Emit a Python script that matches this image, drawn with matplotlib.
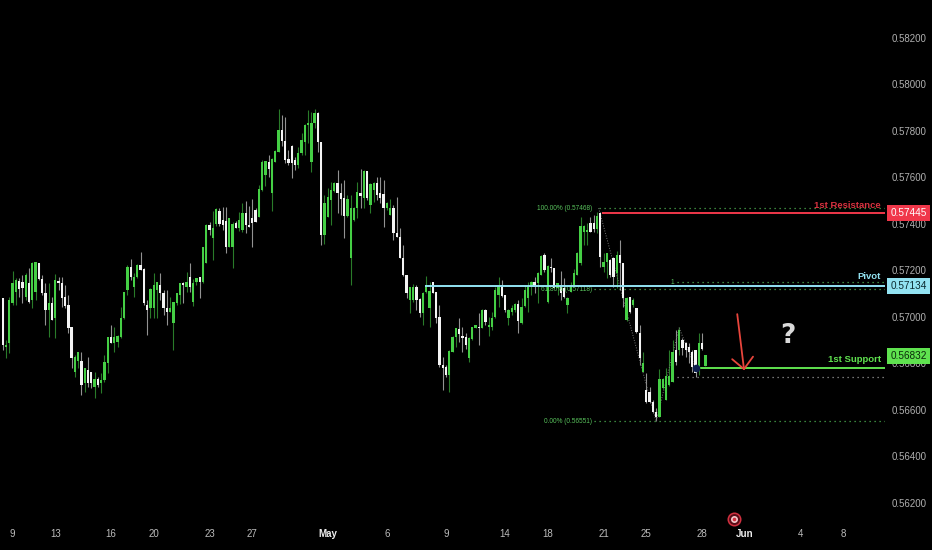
import numpy as np
import matplotlib
matplotlib.use('Agg')
import matplotlib.pyplot as plt

plt.rcParams['font.family'] = ['Liberation Sans', 'DejaVu Sans']

# candles, prices in 1e-5 units; G = up candle, W = down candle
candle_dir = ("WGGGGWWGWG" "GWWWGWGWWW" "WWGGWGWWGW" "GGGWGGGGGW" "GGWWWGGGWW"
              "WGGGGWGWGG" "WGGWGGWWWG" "GWGGWWWWGG" "GWGGGWWWWW" "GGGGGGWWGG"
              "GGWWWGGGGW" "GWGGWWWGGW" "WWWWGGWWGG" "GWWWWWGGGW" "WWGGGWGWGG"
              "GGWWGGGWGG" "GGWGGWGWWG" "WWGGGGGGGW" "WGWGGWWGWW" "GWGWWGWWWW"
              "GGGGGWGWWW" "WWGWG")

highs = [57080,56901,57087,57199,57166,57166,57181,57188,57209,57238,
         57238,57234,57181,57145,57145,57087,57183,57173,57173,57138,
         57095,56958,56837,56851,56847,56779,56829,56765,56765,56743,
         56758,56837,56915,56966,56958,56923,57044,57109,57224,57248,
         57188,57228,57281,57209,57073,57123,57191,57152,57191,57116,
         57116,57087,57066,57102,57148,57152,57195,57231,57162,57166,
         57170,57302,57400,57410,57457,57467,57467,57474,57472,57424,
         57410,57414,57453,57492,57500,57477,57506,57467,57568,57675,
         57671,57697,57682,57718,57894,57869,57861,57718,57739,57689,
         57732,57790,57830,57890,57883,57893,57883,57754,57525,57553,
         57582,57582,57632,57578,57589,57525,57525,57472,57582,57635,
         57632,57629,57575,57582,57600,57603,57589,57496,57506,57482,
         57515,57381,57309,57181,57130,57140,57138,57080,57109,57176,
         57152,57152,57109,57052,56829,56794,56858,56918,56951,56994,
         56958,56930,56915,56958,56966,57016,57033,57033,56999,57023,
         57130,57170,57159,57095,57033,57052,57059,57073,57080,57138,
         57152,57156,57173,57195,57267,57274,57224,57252,57209,57145,
         57199,57166,57087,57152,57205,57281,57431,57396,57403,57431,
         57439,57453,57453,57274,57277,57248,57259,57285,57331,57231,
         57087,57087,57080,57037,56966,56851,56758,56700,56643,56607,
         56775,56736,56779,56858,56901,56944,56958,56908,56894,56887,
         56858,56858,56930,56930,56837]

body_tops = [57080,56880,57073,57148,57159,57156,57152,57181,57148,57231,
             57238,57231,57162,57102,57059,57062,57159,57156,57148,57087,
             57052,56956,56829,56847,56812,56779,56772,56765,56732,56732,
             56729,56804,56913,56913,56915,56918,56994,57109,57216,57213,
             57170,57224,57224,57205,57052,57119,57138,57152,57138,57105,
             57037,57037,57063,57102,57148,57148,57152,57170,57148,57166,
             57170,57299,57396,57396,57381,57463,57457,57417,57414,57424,
             57400,57406,57417,57446,57446,57396,57424,57460,57549,57665,
             57671,57665,57679,57714,57804,57804,57758,57678,57735,57675,
             57704,57761,57826,57836,57833,57876,57879,57754,57489,57517,
             57546,57578,57575,57535,57510,57506,57467,57467,57539,57532,
             57629,57628,57572,57578,57575,57532,57529,57492,57467,57467,
             57363,57343,57252,57181,57130,57130,57130,57076,57105,57138,
             57113,57152,57109,56999,56794,56786,56855,56915,56951,56947,
             56918,56915,56908,56956,56964,56958,57030,57030,56966,56994,
             57116,57130,57138,57095,57030,57037,57056,57056,57044,57116,
             57130,57152,57152,57188,57262,57267,57219,57213,57209,57145,
             57138,57123,57080,57138,57188,57277,57391,57391,57374,57403,
             57403,57434,57446,57238,57274,57245,57252,57267,57267,57231,
             57080,57087,57073,57037,56930,56801,56686,56679,56636,56593,
             56732,56733,56746,56746,56851,56858,56944,56901,56887,56872,
             56851,56858,56887,56887,56837]

body_bottoms = [56880,56872,56887,57059,57109,57119,57123,57087,57066,57073,
                57109,57162,57102,57030,57030,56987,56994,57145,57080,57047,
                56951,56822,56765,56812,56708,56715,56715,56715,56700,56708,
                56715,56729,56801,56887,56887,56894,56915,56994,57116,57170,
                57130,57170,57202,57059,57030,57037,57037,57116,57102,57037,
                57023,57023,56976,57059,57095,57138,57130,57130,57066,57152,
                57152,57152,57231,57374,57338,57400,57400,57396,57302,57302,
                57302,57381,57381,57374,57396,57386,57403,57410,57431,57546,
                57611,57636,57535,57668,57711,57758,57675,57661,57661,57654,
                57654,57704,57754,57826,57668,57833,57754,57353,57353,57431,
                57503,57543,57532,57506,57434,57434,57252,57417,57467,57520,
                57510,57510,57482,57546,57525,57510,57467,57467,57439,57360,
                57343,57252,57181,57102,57073,57073,57073,57016,57016,57109,
                57037,57102,56994,56794,56779,56751,56751,56851,56915,56927,
                56908,56880,56822,56904,56951,56951,56951,56980,56958,56958,
                56999,57095,57090,57030,56994,57023,57030,56984,56973,57047,
                57080,57130,57130,57148,57181,57202,57066,57209,57123,57123,
                57102,57087,57052,57109,57138,57181,57231,57367,57367,57367,
                57377,57377,57259,57216,57238,57181,57173,57188,57231,57080,
                56987,57023,57052,56937,56822,56761,56636,56636,56593,56569,
                56571,56693,56643,56708,56722,56808,56858,56865,56858,56851,
                56786,56758,56779,56861,56789]

lows = [56858,56822,56844,57052,57052,57087,57062,57073,57059,57037,
        57073,57159,57095,56966,56915,56987,56908,57116,57044,57037,
        56930,56779,56743,56779,56665,56679,56700,56693,56650,56700,
        56672,56722,56758,56887,56851,56872,56908,56990,57095,57159,
        57087,57166,57202,57052,56923,56994,56994,56994,57073,57009,
        56966,57023,56858,57052,57056,57059,57109,57109,57047,57138,
        57080,57148,57231,57353,57245,57391,57391,57374,57274,57302,
        57209,57381,57371,57367,57363,57386,57300,57410,57429,57543,
        57563,57603,57457,57665,57711,57735,57661,57654,57596,57632,
        57639,57697,57697,57747,57625,57811,57711,57310,57314,57431,
        57396,57539,57446,57439,57338,57431,57138,57414,57424,57467,
        57467,57503,57446,57496,57503,57489,57386,57460,57439,57331,
        57343,57252,57174,57080,57019,57066,57030,57001,56966,57102,
        56956,57102,56976,56784,56686,56743,56675,56847,56872,56894,
        56851,56861,56808,56901,56951,56880,56951,56966,56918,56944,
        56994,57044,57087,57023,56966,57009,57023,56930,56970,57044,
        57023,57095,57102,57062,57181,57195,57062,57195,57123,57095,
        57073,57080,57016,57109,57138,57181,57224,57310,57310,57367,
        57367,57360,57213,57195,57166,57173,57130,57123,57116,57044,
        56984,57016,57044,56930,56794,56761,56629,56629,56586,56554,
        56569,56689,56643,56703,56718,56794,56837,56837,56829,56801,
        56765,56743,56751,56858,56789]

price_ticks = [0.562, 0.564, 0.566, 0.568, 0.570, 0.572, 0.574, 0.576, 0.578, 0.580, 0.582]
time_ticks = [3, 16, 33, 46, 63, 76, 99, 117, 135, 153, 166, 183, 196, 213, 226, 243, 256]
time_labels = ['9', '13', '16', '20', '23', '27', 'May', '6', '9', '14', '18', '21', '25', '28', 'Jun', '4', '8']

resistance = 0.57445
pivot = 0.57134
support_line = 0.56780
support_tag = 0.56832

# zigzag behind the fib levels
zigzag_x = [181.5, 199, 206, 211]
zigzag_y = [0.57468, 0.56551, 0.56953, 0.56780]

GREEN = '#45cf45'
WHITE = '#f4f4f4'
RED = '#f0374a'
CYAN = '#93e3f2'
LIME = '#5fe24f'
FIB = '#4caf50'

highs, lows = np.array(highs) / 1e5, np.array(lows) / 1e5
body_tops, body_bottoms = np.array(body_tops) / 1e5, np.array(body_bottoms) / 1e5
idx = np.arange(len(highs))
colors = [GREEN if d == 'G' else WHITE for d in candle_dir]

fig = plt.figure(figsize=(9.32, 5.5), dpi=100, facecolor='black')
ax = fig.add_axes([0, 28 / 550, 885 / 932, 522 / 550], facecolor='black')
ax.set_xlim(-0.82, 268.7)
ax.set_ylim(0.56118, 0.58363)
for s in ax.spines.values():
    s.set_visible(False)

ax.vlines(idx, lows, highs, colors=colors, linewidth=0.8, alpha=0.6, zorder=2)
ax.bar(idx, body_tops - body_bottoms, bottom=body_bottoms, width=0.7, color=colors, linewidth=0, zorder=3)

ax.plot(zigzag_x, zigzag_y, color='#777777', linestyle=':', linewidth=0.7, zorder=2)

# fib levels
dots = (0, (1, 3))
ax.hlines(0.57468, 181.5, 268.7, color=FIB, linewidth=0.9, linestyle=dots, zorder=1)
ax.hlines(0.57150, 205.5, 268.7, color=FIB, linewidth=0.9, linestyle=dots, zorder=1)
ax.hlines(0.57118, 180, 268.7, color=FIB, linewidth=0.9, linestyle=dots, zorder=1)
ax.hlines(0.56742, 205.5, 268.7, color='#9a9a9a', linewidth=0.9, linestyle=dots, zorder=1)
ax.hlines(0.56551, 180, 268.7, color=FIB, linewidth=0.9, linestyle=dots, zorder=1)
fib_font = dict(color='#58c25c', fontsize=4.7, ha='right', va='center', zorder=4)
ax.text(179.5, 0.57468, '100.00% (0.57468)', **fib_font)
ax.text(179.5, 0.57118, '61.80% (0.57118)', **fib_font)
ax.text(179.5, 0.56551, '0.00% (0.56551)', **fib_font)
ax.text(204.5, 0.57150, '1', **fib_font)

# key levels
ax.hlines(resistance, 182.5, 268.7, color=RED, linewidth=1.4, zorder=5)
ax.hlines(pivot, 128.6, 268.7, color=CYAN, linewidth=1.4, zorder=5)
ax.hlines(support_line, 211.5, 268.7, color=LIME, linewidth=1.4, zorder=5)
ax.plot([211], [support_line], 'o', markersize=4.5, color='#0d1f4d', zorder=6)

name_font = dict(fontsize=6.8, fontweight='bold', ha='right', va='center', zorder=6)
ax.text(267.4, 0.57478, '1st Resistance', color='#d8323f', **name_font)
ax.text(267.4, 0.57172, 'Pivot', color=CYAN, **name_font)
ax.text(267.4, 0.56817, '1st Support', color=LIME, **name_font)

# price tags on the scale
tag_tf = ax.get_yaxis_transform()
tag_font = dict(transform=tag_tf, fontsize=7.2, ha='center', va='center', zorder=10, clip_on=False)
ax.text(1.0265, resistance, '0.57445', color='white',
        bbox=dict(boxstyle='square,pad=0.3', fc=RED, ec='none'), **tag_font)
ax.text(1.0265, pivot, '0.57134', color='#0c2a30',
        bbox=dict(boxstyle='square,pad=0.3', fc=CYAN, ec='none'), **tag_font)
ax.text(1.0265, support_tag, '0.56832', color='#0b2a0b',
        bbox=dict(boxstyle='square,pad=0.3', fc=LIME, ec='none'), **tag_font)

# drawn arrow and question mark
ax.annotate('', xy=(225.8, 0.56770), xytext=(223.7, 0.57012),
            arrowprops=dict(arrowstyle='->,head_length=0.45,head_width=0.42', color='#e8453c',
                            lw=1.3, shrinkA=0, shrinkB=0, mutation_scale=18), zorder=7)
ax.text(239, 0.56918, '?', color='#d9d9d9', fontsize=19, fontweight='bold',
        family='DejaVu Sans', ha='center', va='center', zorder=7)

# event marker by the time axis
ax.plot([222.8], [0.56130], 'o', markersize=9, mfc='#5a0d18', mec='#d0303f', mew=1.1, clip_on=False, zorder=8)
ax.plot([222.8], [0.56130], 'o', markersize=4, color='#f3c9cc', clip_on=False, zorder=9)
ax.plot([222.8], [0.56130], 'o', markersize=1.6, color='#d0303f', clip_on=False, zorder=10)

ax.yaxis.tick_right()
ax.set_yticks(price_ticks)
ax.set_yticklabels([f'{p:.5f}' for p in price_ticks])
ax.tick_params(axis='y', length=0, pad=5, labelsize=7, labelcolor='#b0b0b0')
ax.set_xticks(time_ticks)
ax.set_xticklabels(time_labels)
ax.tick_params(axis='x', length=0, pad=5, labelsize=7, labelcolor='#bcbcbc')
for lab in ax.get_xticklabels():
    if lab.get_text() in ('May', 'Jun'):
        lab.set_color('#eeeeee')
        lab.set_fontweight('bold')

fig.savefig('out.png', dpi=100, facecolor='black')
